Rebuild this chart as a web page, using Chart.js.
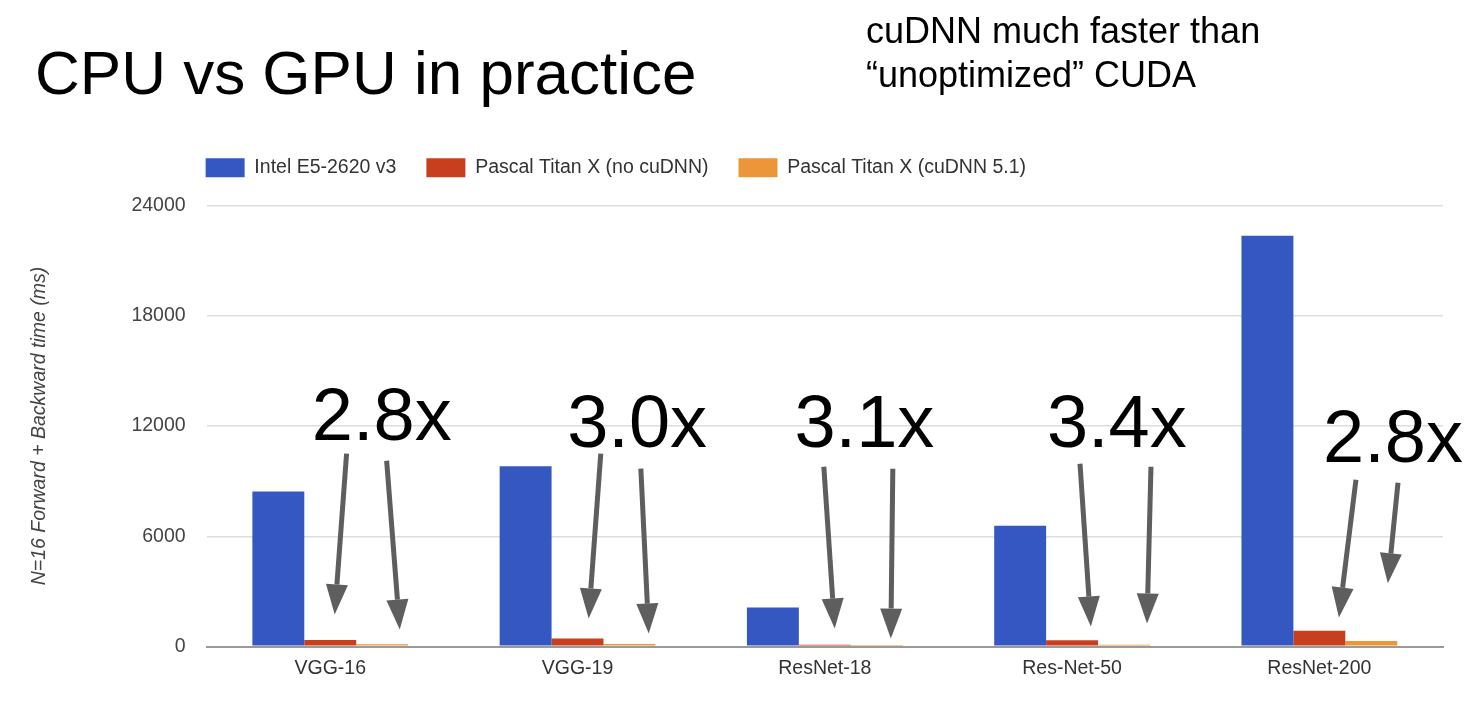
<!DOCTYPE html>
<html>
<head>
<meta charset="utf-8">
<script src="https://cdn.jsdelivr.net/npm/chart.js@4.4.1/dist/chart.umd.min.js"></script>
<style>
  html, body { margin: 0; padding: 0; background: #ffffff; }
  #wrap { position: relative; width: 1480px; height: 702px; }
</style>
</head>
<body>
<div id="wrap"><canvas id="c"></canvas></div>
<script>
// ---------- data ----------
const categories = ['VGG-16', 'VGG-19', 'ResNet-18', 'Res-Net-50', 'ResNet-200'];
const seriesNames = ['Intel E5-2620 v3', 'Pascal Titan X (no cuDNN)', 'Pascal Titan X (cuDNN 5.1)'];
const cpuTimes = [8440, 9810, 2130, 6580, 22360];
const gpuNoCudnn = [362, 442, 98, 352, 857];
const gpuCudnn = [129, 147, 32, 104, 306];
const yTicks = [0, 6000, 12000, 18000, 24000];
const speedups = ['2.8x', '3.0x', '3.1x', '3.4x', '2.8x'];
const titleText = 'CPU vs GPU in practice';
const noteLines = ['cuDNN much faster than', '\u201Cunoptimized\u201D CUDA'];
const yAxisTitle = 'N=16 Forward + Backward time (ms)';

// ---------- annotation placement (category offset in band widths, y in axis units) ----------
const labelPos = [
  { dx: 0.208, y: 11262 }, { dx: 0.241, y: 10880 }, { dx: 0.160, y: 10880 },
  { dx: 0.181, y: 10880 }, { dx: 0.298, y: 10059 }
];
const arrowPos = [
  [{ x0: 0.066, y0: 10497, x1: 0.018, y1: 1749 }, { x0: 0.228, y0: 10114, x1: 0.281, y1: 929 }],
  [{ x0: 0.094, y0: 10497, x1: 0.045, y1: 1531 }, { x0: 0.256, y0: 9677, x1: 0.288, y1: 711 }],
  [{ x0: -0.004, y0: 9786, x1: 0.040, y1: 984 }, { x0: 0.275, y0: 9677, x1: 0.267, y1: 437 }],
  [{ x0: 0.032, y0: 9950, x1: 0.076, y1: 1093 }, { x0: 0.319, y0: 9786, x1: 0.303, y1: 1257 }],
  [{ x0: 0.148, y0: 9075, x1: 0.079, y1: 1585 }, { x0: 0.318, y0: 8911, x1: 0.277, y1: 3444 }]
];

const FONT = '"Liberation Sans", Arial, Helvetica, sans-serif';
Chart.defaults.font.family = FONT;

const legendPlace = {
  id: 'legendPlace',
  afterLayout(chart) {
    const lg = chart.legend;
    if (!lg) return;
    const pad = lg.options.labels.padding;
    const h = lg.bottom - lg.top;
    lg.left = chart.chartArea.left - 1 - pad;
    lg.top = 158 - pad;
    lg.bottom = lg.top + h;
  }
};

const overlay = {
  id: 'overlay',
  afterDraw(chart) {
    const ctx = chart.ctx;
    const xs = chart.scales.x, ys = chart.scales.y;
    const band = xs.width / categories.length;
    ctx.save();
    // headings
    ctx.fillStyle = '#000';
    ctx.textBaseline = 'alphabetic';
    ctx.textAlign = 'left';
    ctx.font = '62px ' + FONT;
    ctx.fillText(titleText, 35, 94);
    ctx.font = '36px ' + FONT;
    ctx.fillText(noteLines[0], 866, 43);
    ctx.fillText(noteLines[1], 866, 87);
    // speedup labels
    ctx.textAlign = 'center';
    ctx.font = '74px ' + FONT;
    categories.forEach((c, i) => {
      const cx = xs.getPixelForValue(i);
      ctx.fillText(speedups[i], cx + labelPos[i].dx * band, ys.getPixelForValue(labelPos[i].y));
    });
    // arrows
    ctx.strokeStyle = '#5e5e5e';
    ctx.fillStyle = '#5e5e5e';
    ctx.lineWidth = 5;
    categories.forEach((c, i) => {
      const cx = xs.getPixelForValue(i);
      arrowPos[i].forEach(a => {
        const x0 = cx + a.x0 * band, y0 = ys.getPixelForValue(a.y0);
        const x1 = cx + a.x1 * band, y1 = ys.getPixelForValue(a.y1);
        const ang = Math.atan2(y1 - y0, x1 - x0);
        const L = 30, W = 11;
        const bx = x1 - L * Math.cos(ang), by = y1 - L * Math.sin(ang);
        ctx.beginPath();
        ctx.moveTo(x0, y0);
        ctx.lineTo(bx, by);
        ctx.stroke();
        ctx.beginPath();
        ctx.moveTo(x1, y1);
        ctx.lineTo(bx + W * Math.sin(ang), by - W * Math.cos(ang));
        ctx.lineTo(bx - W * Math.sin(ang), by + W * Math.cos(ang));
        ctx.closePath();
        ctx.fill();
      });
    });
    ctx.restore();
  }
};

const colors = ['#3557c2', '#c83f1f', '#ec9639'];
const values = [cpuTimes, gpuNoCudnn, gpuCudnn];

new Chart(document.getElementById('c'), {
  type: 'bar',
  data: {
    labels: categories,
    datasets: seriesNames.map((n, k) => ({
      label: n,
      data: values[k],
      backgroundColor: colors[k],
      borderWidth: 0,
      categoryPercentage: 0.63,
      barPercentage: 1.0
    }))
  },
  options: {
    responsive: true,
    maintainAspectRatio: false,
    animation: false,
    layout: { padding: { left: 24, right: 37, top: 146, bottom: 12 } },
    plugins: {
      legend: {
        position: 'top',
        align: 'start',
        labels: {
          boxWidth: 39, boxHeight: 19, padding: 30,
          color: '#333', font: { size: 19.5 }
        }
      },
      tooltip: { enabled: false }
    },
    scales: {
      x: {
        grid: { display: false, drawTicks: false },
        border: { display: true, color: '#9a9a9a', width: 2 },
        ticks: { color: '#333', font: { size: 19.5 }, padding: 10 }
      },
      y: {
        min: 0, max: 24000,
        afterBuildTicks(scale) { scale.ticks = yTicks.map(v => ({ value: v })); },
        grid: {
          color: ctx => ctx.tick && ctx.tick.value === 0 ? '#9a9a9a' : '#dedede',
          lineWidth: ctx => ctx.tick && ctx.tick.value === 0 ? 2 : 1.5,
          drawTicks: false
        },
        border: { display: false },
        ticks: { color: '#444', font: { size: 19.5 }, padding: 21, callback: v => String(v) },
        title: {
          display: true, text: yAxisTitle, color: '#444',
          font: { size: 19.5, style: 'italic' },
          padding: { top: 4, bottom: 59 }
        }
      }
    }
  },
  plugins: [legendPlace, overlay]
});
</script>
</body>
</html>
